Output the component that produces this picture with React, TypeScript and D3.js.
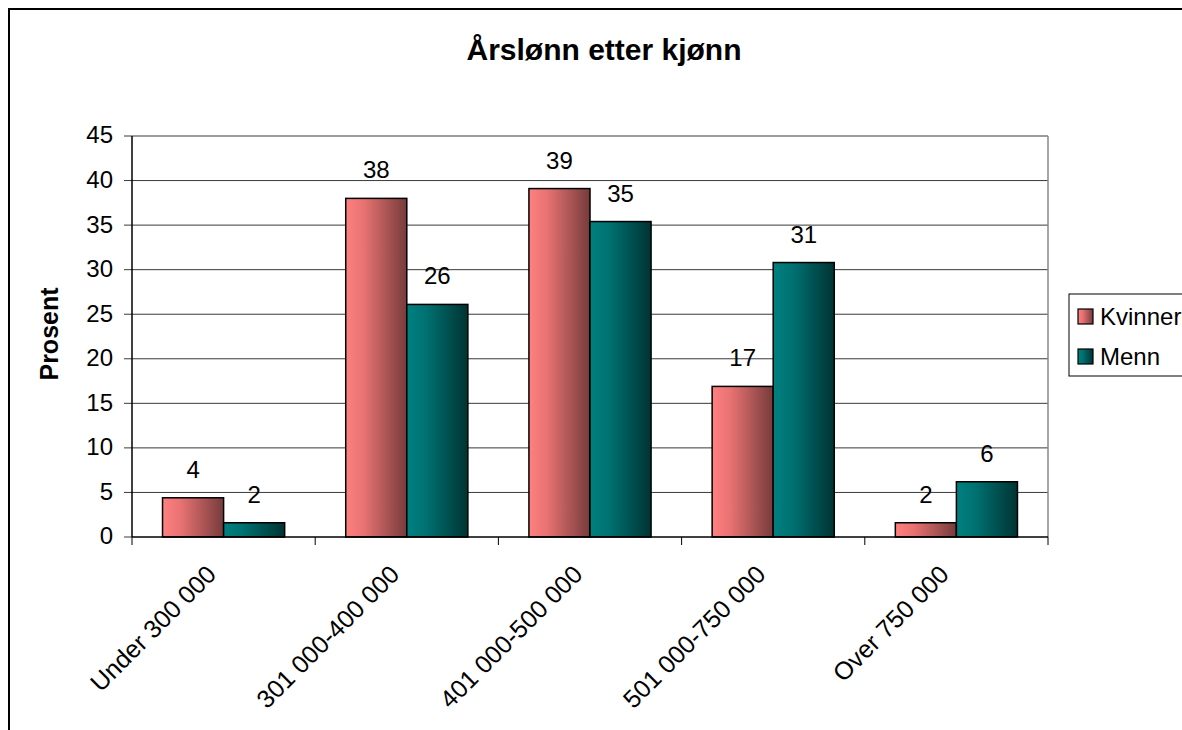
import React from "react";
import * as d3 from "d3";

const categories = ["Under 300 000", "301 000-400 000", "401 000-500 000", "501 000-750 000", "Over 750 000"];
const seriesNames = ["Kvinner", "Menn"];
const kvinner = [4.4, 38.0, 39.1, 16.9, 1.6];
const menn = [1.6, 26.1, 35.4, 30.8, 6.2];
const yTicks = [0, 5, 10, 15, 20, 25, 30, 35, 40, 45];

const W = 1182, H = 730;
const plot = { left: 132, right: 1048, top: 136, bottom: 537 };
const FONT = "'Liberation Sans', Arial, sans-serif";

export default function App() {
  const x0 = d3.scaleBand<string>().domain(categories).range([plot.left, plot.right]).paddingInner(0).paddingOuter(0);
  const x1 = d3.scaleBand<string>().domain(seriesNames).range([0, x0.bandwidth() * 2 / 3]);
  const offset = x0.bandwidth() / 6;
  const y = d3.scaleLinear().domain([0, 45]).range([plot.bottom, plot.top]);
  const data = [kvinner, menn];
  const grads = ["gK", "gM"];

  return (
    <svg width={W} height={H} style={{ position: "absolute", left: 0, top: 0, background: "#fff" }} fontFamily={FONT}>
      <defs>
        <linearGradient id="gK" x1="0" x2="1" y1="0" y2="0">
          <stop offset="0" stopColor="#ff8080" />
          <stop offset="0.3" stopColor="#e87272" />
          <stop offset="1" stopColor="#763b3b" />
        </linearGradient>
        <linearGradient id="gM" x1="0" x2="1" y1="0" y2="0">
          <stop offset="0" stopColor="#008080" />
          <stop offset="0.3" stopColor="#007272" />
          <stop offset="1" stopColor="#003333" />
        </linearGradient>
      </defs>
      <rect x={9} y={9} width={1300} height={900} fill="#fff" stroke="#000" strokeWidth={2} />
      <text x={604} y={60} textAnchor="middle" fontSize={30} fontWeight="bold">Årslønn etter kjønn</text>

      {yTicks.map((t) => (
        <g key={t}>
          {t > 0 && <line x1={plot.left} x2={plot.right} y1={y(t)} y2={y(t)} stroke="#3a3a3a" strokeWidth={1} />}
          <line x1={plot.left - 8} x2={plot.left} y1={y(t)} y2={y(t)} stroke="#3a3a3a" strokeWidth={1} />
          <text x={113} y={y(t)} dy="0.31em" textAnchor="end" fontSize={24}>{t}</text>
        </g>
      ))}
      <line x1={plot.right} x2={plot.right} y1={plot.top} y2={plot.bottom} stroke="#888" strokeWidth={1.5} />

      {categories.map((c, i) =>
        data.map((vals, s) => {
          const bx = (x0(c) as number) + offset + (x1(seriesNames[s]) as number);
          const bw = x1.bandwidth();
          const top = y(vals[i]);
          return (
            <g key={c + s}>
              <rect x={bx} y={top} width={bw} height={plot.bottom - top} fill={`url(#${grads[s]})`} stroke="#000" strokeWidth={1.5} />
              <text x={bx + bw / 2} y={top - 20} textAnchor="middle" fontSize={24}>{d3.format(".0f")(vals[i])}</text>
            </g>
          );
        })
      )}

      <line x1={plot.left} x2={plot.left} y1={plot.top} y2={plot.bottom} stroke="#000" strokeWidth={1.5} />
      <line x1={plot.left} x2={plot.right} y1={plot.bottom} y2={plot.bottom} stroke="#000" strokeWidth={1.5} />
      {d3.range(categories.length + 1).map((i) => {
        const xx = plot.left + i * x0.step();
        return <line key={i} x1={xx} x2={xx} y1={plot.bottom} y2={plot.bottom + 8} stroke="#000" strokeWidth={1} />;
      })}
      {categories.map((c) => {
        const cx = (x0(c) as number) + x0.bandwidth() / 2;
        return (
          <text key={c} transform={`translate(${cx - 6},${plot.bottom + 39}) rotate(-45)`} textAnchor="end" fontSize={25}>{c}</text>
        );
      })}

      <text transform={`translate(58,${334}) rotate(-90)`} textAnchor="middle" fontSize={25} fontWeight="bold">Prosent</text>

      <rect x={1069} y={294} width={200} height={82} fill="#fff" stroke="#000" strokeWidth={1} />
      {seriesNames.map((s, i) => (
        <g key={s}>
          <rect x={1078} y={309 + i * 40} width={15} height={15} fill={`url(#${grads[i]})`} stroke="#000" strokeWidth={1.2} />
          <text x={1100} y={325 + i * 40} fontSize={24}>{s}</text>
        </g>
      ))}
    </svg>
  );
}
